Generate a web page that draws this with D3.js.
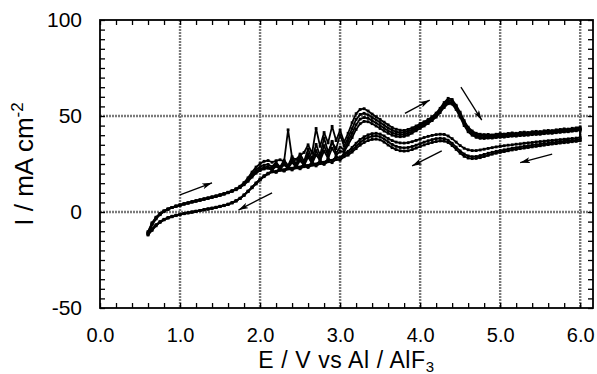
<!DOCTYPE html>
<html>
<head>
<meta charset="utf-8">
<script src="https://cdn.jsdelivr.net/npm/d3@7"></script>
<style>
  html, body { margin: 0; padding: 0; background: #fff; }
  svg { display: block; font-family: "Liberation Sans", Arial, sans-serif; }
</style>
</head>
<body>
<svg id="chart" width="597" height="374"></svg>
<script>
// potential sweep (V vs Al/AlF3), shared by every branch
const potential = [
  0.60,0.65,0.70,0.75,0.80,0.85,0.90,0.95,1.00,1.05,
  1.10,1.15,1.20,1.25,1.30,1.35,1.40,1.45,1.50,1.55,
  1.60,1.65,1.70,1.75,1.80,1.85,1.90,1.95,2.00,2.05,
  2.10,2.15,2.20,2.25,2.30,2.35,2.40,2.45,2.50,2.55,
  2.60,2.65,2.70,2.75,2.80,2.85,2.90,2.95,3.00,3.05,
  3.10,3.15,3.20,3.25,3.30,3.35,3.40,3.45,3.50,3.55,
  3.60,3.65,3.70,3.75,3.80,3.85,3.90,3.95,4.00,4.05,
  4.10,4.15,4.20,4.25,4.30,4.35,4.40,4.45,4.50,4.55,
  4.60,4.65,4.70,4.75,4.80,4.85,4.90,4.95,5.00,5.05,
  5.10,5.15,5.20,5.25,5.30,5.35,5.40,5.45,5.50,5.55,
  5.60,5.65,5.70,5.75,5.80,5.85,5.90,5.95,6.00
];

// anodic (forward) scans, mA cm-2
const forward1 = [
  -11.5,-6.8,-3.6,-1.4,0.3,1.4,2.3,3.0,3.6,4.2,
  4.7,5.3,5.8,6.2,6.8,7.2,7.8,8.3,8.8,9.5,
  10.2,11.0,12.0,13.4,15.3,17.8,20.8,23.4,25.2,26.4,
  26.8,25.9,26.7,27.2,26.3,42.8,28.2,27.4,29.6,31.0,
  35.0,30.6,43.5,34.2,41.4,36.0,44.6,37.2,42.6,36.4,
  41.0,46.5,51.2,53.4,53.8,52.6,51.0,49.6,48.2,46.8,
  45.4,44.0,43.1,42.6,42.5,43.0,43.8,44.8,46.0,47.0,
  48.2,49.6,51.5,54.0,57.0,59.2,58.6,55.6,52.0,47.6,
  44.2,42.2,41.0,40.5,40.3,40.4,40.1,40.5,40.8,40.6,
  40.9,41.2,41.0,41.4,41.6,41.4,41.8,42.0,41.9,42.3,
  42.5,42.4,42.8,43.0,43.3,43.2,43.6,43.8,44.2
];
const forward2 = [
  -11.0,-6.4,-3.3,-1.2,0.4,1.5,2.4,3.1,3.7,4.3,
  4.8,5.4,5.9,6.4,6.9,7.4,7.9,8.4,9.0,9.6,
  10.3,11.1,12.1,13.3,15.0,17.2,19.8,22.0,23.6,24.4,
  24.8,23.6,25.8,23.4,27.0,24.2,28.8,25.0,30.2,26.4,
  32.8,27.6,35.2,29.4,38.6,31.2,36.4,33.0,40.2,34.2,
  38.6,43.4,48.2,50.8,51.4,50.6,49.2,48.0,46.6,45.2,
  43.8,42.6,41.8,41.4,41.5,42.0,42.9,44.0,45.2,46.4,
  47.6,49.0,50.8,53.2,56.0,58.0,57.8,55.0,51.0,46.8,
  43.6,41.6,40.4,39.8,39.6,39.7,39.6,39.9,40.1,40.0,
  40.3,40.5,40.4,40.8,40.9,40.8,41.2,41.3,41.3,41.6,
  41.8,41.8,42.1,42.3,42.5,42.5,42.8,43.0,43.4
];
const forward3 = [
  -10.6,-6.0,-3.0,-1.0,0.5,1.5,2.3,3.0,3.5,4.1,
  4.6,5.2,5.6,6.1,6.6,7.1,7.6,8.1,8.7,9.3,
  10.0,10.8,11.7,12.9,14.5,16.6,19.0,21.0,22.4,23.2,
  23.6,22.6,24.8,22.8,25.6,23.4,27.2,24.2,28.4,25.0,
  30.4,26.2,32.0,27.8,34.6,29.4,36.8,30.6,33.8,32.4,
  36.8,41.0,45.4,48.4,49.2,48.8,47.6,46.4,45.0,43.6,
  42.3,41.3,40.6,40.3,40.4,41.0,42.0,43.2,44.4,45.6,
  46.9,48.4,50.2,52.6,55.2,57.2,57.0,54.2,50.2,45.8,
  42.6,40.8,39.6,39.1,39.0,39.1,39.1,39.4,39.6,39.5,
  39.8,40.0,40.0,40.3,40.4,40.4,40.7,40.9,40.9,41.2,
  41.4,41.4,41.7,41.9,42.1,42.2,42.5,42.7,43.0
];
const forward4 = [
  -10.2,-5.6,-2.7,-0.8,0.6,1.6,2.4,3.1,3.6,4.2,
  4.7,5.2,5.7,6.2,6.7,7.2,7.7,8.2,8.8,9.4,
  10.1,10.8,11.6,12.7,14.2,16.0,18.2,20.2,21.6,22.4,
  22.8,21.8,23.8,22.2,24.6,22.8,25.8,23.4,26.8,24.2,
  28.6,25.2,29.8,26.8,31.8,28.0,33.2,29.6,31.6,31.4,
  35.0,38.8,43.0,46.0,47.2,47.0,46.0,44.8,43.5,42.2,
  41.0,40.0,39.4,39.2,39.4,40.0,41.1,42.3,43.6,44.8,
  46.1,47.6,49.4,51.8,54.4,56.4,56.2,53.4,49.4,45.0,
  41.8,40.0,38.9,38.4,38.3,38.5,38.5,38.8,39.0,39.0,
  39.3,39.5,39.5,39.8,39.9,40.0,40.3,40.4,40.5,40.8,
  41.0,41.0,41.3,41.5,41.7,41.8,42.1,42.3,42.6
];

// cathodic (reverse) scans, listed in ascending potential
const reverse1 = [
  -12.0,-9.6,-7.2,-5.4,-4.1,-3.2,-2.5,-1.9,-1.4,-0.9,
  -0.5,-0.1,0.3,0.7,1.1,1.5,1.9,2.3,2.8,3.3,
  3.9,4.7,5.7,7.0,8.7,10.6,12.6,14.6,16.6,18.4,
  19.8,21.0,20.8,22.2,21.6,22.9,22.4,23.6,23.0,24.4,
  23.8,25.2,24.7,26.2,25.6,27.3,26.8,28.6,28.3,30.4,
  31.6,33.6,35.8,37.8,39.2,40.2,40.8,41.0,40.6,39.6,
  38.3,37.2,36.4,36.0,35.9,36.1,36.6,37.3,38.0,38.8,
  39.4,39.9,40.3,40.5,40.4,39.6,38.2,36.4,34.6,33.2,
  32.4,32.0,32.0,32.3,32.7,33.1,33.5,33.9,34.2,34.5,
  34.8,35.0,35.3,35.5,35.8,36.0,36.2,36.5,36.7,36.9,
  37.1,37.3,37.5,37.7,37.9,38.1,38.3,38.5,38.8
];
const reverse2 = [
  -11.6,-9.2,-6.9,-5.2,-3.9,-3.0,-2.3,-1.7,-1.2,-0.8,
  -0.4,0.0,0.4,0.8,1.2,1.6,2.0,2.4,2.9,3.4,
  4.0,4.8,5.8,7.1,8.8,10.8,12.9,15.0,17.0,18.8,
  20.2,21.4,21.2,22.6,22.0,23.3,22.8,24.0,23.4,24.8,
  24.2,25.6,25.0,26.4,25.9,27.4,26.9,28.5,28.1,29.8,
  30.6,32.2,34.2,36.2,37.8,38.8,39.4,39.6,39.2,38.0,
  36.6,35.2,34.2,33.6,33.4,33.6,34.1,34.8,35.6,36.4,
  37.1,37.7,38.2,38.4,38.2,37.4,35.8,33.8,31.8,30.2,
  29.2,28.8,28.9,29.4,30.0,30.6,31.1,31.6,32.0,32.4,
  32.8,33.2,33.5,33.9,34.2,34.5,34.8,35.1,35.4,35.7,
  35.9,36.2,36.4,36.7,36.9,37.1,37.3,37.5,37.8
];
const reverse3 = [
  -11.2,-8.8,-6.6,-5.0,-3.8,-2.9,-2.2,-1.7,-1.2,-0.8,
  -0.4,0.0,0.4,0.8,1.2,1.6,2.0,2.5,3.0,3.5,
  4.1,4.9,5.9,7.2,8.9,10.9,13.0,15.1,17.1,18.8,
  20.0,20.9,20.7,21.7,21.3,22.4,21.9,23.0,22.5,23.6,
  23.2,24.4,24.0,25.2,24.8,26.2,25.7,27.3,27.0,28.8,
  29.6,31.2,33.0,34.8,36.2,37.2,37.8,38.0,37.6,36.4,
  34.9,33.5,32.5,31.9,31.7,31.9,32.5,33.3,34.1,34.9,
  35.6,36.2,36.7,37.0,36.9,36.2,34.6,32.6,30.6,29.0,
  28.1,27.8,27.9,28.3,28.9,29.5,30.1,30.6,31.1,31.5,
  31.9,32.3,32.6,33.0,33.3,33.6,33.9,34.2,34.5,34.8,
  35.1,35.4,35.6,35.9,36.1,36.3,36.6,36.8,37.1
];

const cycles = [
  { fwd: forward1, rev: reverse1 },
  { fwd: forward2, rev: reverse2 },
  { fwd: forward3, rev: reverse3 },
  { fwd: forward4, rev: null }
];

// scan-direction arrows: [E start, I start, E end, I end]
const arrows = [
  [1.00, 8.9, 1.40, 15.2],
  [2.15, 10.0, 1.73, 1.0],
  [3.81, 51.4, 4.12, 58.3],
  [4.51, 65.0, 4.77, 47.9],
  [4.27, 31.8, 3.90, 24.0],
  [5.65, 30.2, 5.25, 25.7]
];

const xMajor = [0, 1, 2, 3, 4, 5, 6];
const yMajor = [-50, 0, 50, 100];
const xGrid = [1, 2, 3, 4, 5, 6];
const yGrid = [0, 50];

const svg = d3.select("#chart");
const L = 100, R = 593, T = 20, B = 308;
const x = d3.scaleLinear().domain([0, 6.16]).range([L, R]);
const y = d3.scaleLinear().domain([-50, 100]).range([B, T]);

// grid
svg.append("g").selectAll("line").data(xGrid).join("line")
  .attr("x1", d => x(d)).attr("x2", d => x(d)).attr("y1", T).attr("y2", B)
  .attr("stroke", "#7a7a7a").attr("stroke-width", 2.4).attr("stroke-dasharray", "2,1");
svg.append("g").selectAll("line").data(yGrid).join("line")
  .attr("x1", L).attr("x2", R).attr("y1", d => y(d)).attr("y2", d => y(d))
  .attr("stroke", "#7a7a7a").attr("stroke-width", 2.4).attr("stroke-dasharray", "2,1");

// minor ticks on all four sides, pointing inward
const xMinor = d3.range(0, 6.01, 0.2);
const yMinor = d3.range(-50, 100.1, 5);
function ticks(axis, tr) {
  const g = svg.append("g").attr("transform", tr).call(axis);
  g.select(".domain").remove();
  g.selectAll("line").attr("stroke", "#000").attr("stroke-width", 1.3);
  return g;
}
ticks(d3.axisBottom(x).tickValues(xMinor).tickSize(-5).tickFormat(""), `translate(0,${B})`);
ticks(d3.axisTop(x).tickValues(xMinor).tickSize(-5).tickFormat(""), `translate(0,${T})`);
ticks(d3.axisLeft(y).tickValues(yMinor).tickSize(-5).tickFormat(""), `translate(${L},0)`);
ticks(d3.axisRight(y).tickValues(yMinor).tickSize(-5).tickFormat(""), `translate(${R},0)`);

// frame
svg.append("rect").attr("x", L).attr("y", T).attr("width", R - L).attr("height", B - T)
  .attr("fill", "none").attr("stroke", "#000").attr("stroke-width", 1.8);

// tick labels
const xl = svg.append("g").attr("transform", `translate(0,${B})`)
  .call(d3.axisBottom(x).tickValues(xMajor).tickSize(0).tickPadding(20).tickFormat(d3.format(".1f")));
xl.select(".domain").remove();
xl.selectAll("text").attr("font-size", 20).attr("font-family", "Liberation Sans, Arial, sans-serif").attr("fill", "#000");
const yl = svg.append("g").attr("transform", `translate(${L},0)`)
  .call(d3.axisLeft(y).tickValues(yMajor).tickSize(0).tickPadding(18).tickFormat(d => String(d)));
yl.select(".domain").remove();
yl.selectAll("text").attr("font-size", 21).attr("font-family", "Liberation Sans, Arial, sans-serif").attr("fill", "#000");

// axis titles
const xt = svg.append("text").attr("x", (L + R) / 2).attr("y", 368)
  .attr("text-anchor", "middle").attr("font-size", 23).attr("letter-spacing", 0.6).attr("fill", "#000");
xt.append("tspan").text("E / V vs Al / AlF");
xt.append("tspan").attr("font-size", 15).attr("dy", 4).text("3");

const yt = svg.append("text").attr("transform", `translate(33,${(T + B) / 2}) rotate(-90)`)
  .attr("text-anchor", "middle").attr("font-size", 26).attr("fill", "#000");
yt.append("tspan").text("I / mA cm");
yt.append("tspan").attr("font-size", 17).attr("dy", -10).text("-2");

// voltammograms
const line = d3.line().x(d => x(d[0])).y(d => y(d[1]));
const plot = svg.append("g");
cycles.forEach(c => {
  const pts = potential.map((e, i) => [e, c.fwd[i]]);
  if (c.rev) potential.map((e, i) => [e, c.rev[i]]).reverse().forEach(p => pts.push(p));
  plot.append("path").attr("d", line(pts)).attr("fill", "none")
    .attr("stroke", "#000").attr("stroke-width", 1.8).attr("stroke-linejoin", "round");
  plot.append("g").selectAll("rect").data(pts).join("rect")
    .attr("x", d => x(d[0]) - 1.4).attr("y", d => y(d[1]) - 1.4)
    .attr("width", 2.8).attr("height", 2.8).attr("fill", "#000");
});

// arrows
svg.append("defs").append("marker").attr("id", "head")
  .attr("viewBox", "0 0 10 6").attr("refX", 10).attr("refY", 3)
  .attr("markerWidth", 10).attr("markerHeight", 6).attr("markerUnits", "userSpaceOnUse")
  .attr("orient", "auto")
  .append("path").attr("d", "M0,0 L10,3 L0,6 L2.5,3 Z").attr("fill", "#000");
svg.append("g").selectAll("line").data(arrows).join("line")
  .attr("x1", d => x(d[0])).attr("y1", d => y(d[1]))
  .attr("x2", d => x(d[2])).attr("y2", d => y(d[3]))
  .attr("stroke", "#000").attr("stroke-width", 1.3).attr("marker-end", "url(#head)");
</script>
</body>
</html>
